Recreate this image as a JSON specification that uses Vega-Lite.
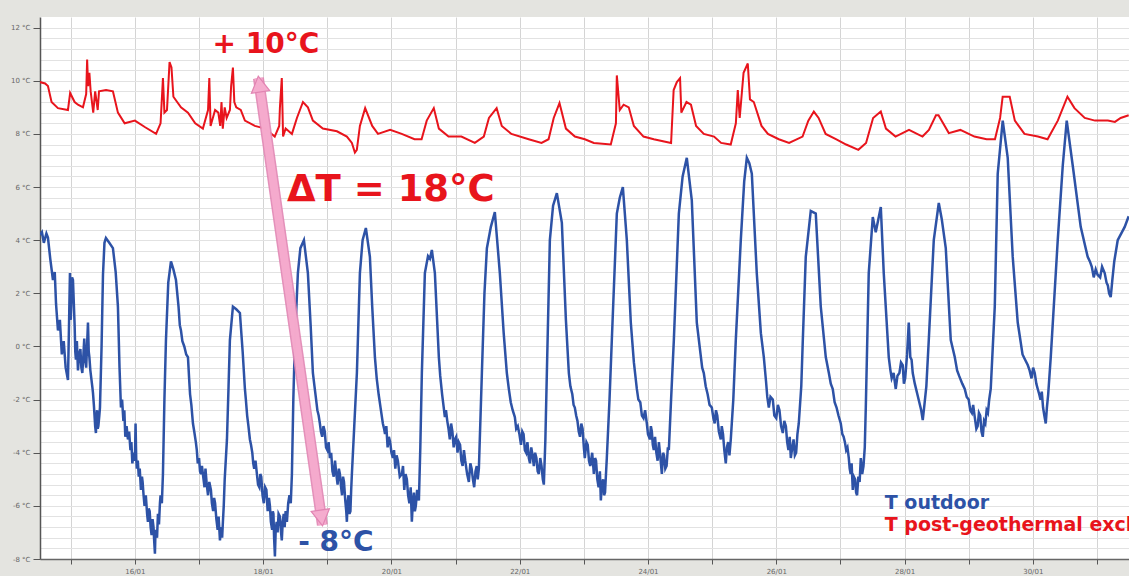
{
  "$schema": "https://vega.github.io/schema/vega-lite/v6.json",
  "width": 1089,
  "height": 542,
  "autosize": "none",
  "padding": {"left": 40, "top": 17, "right": 0, "bottom": 17},
  "background": "#e4e4e0",
  "config": {
    "view": {"fill": "white", "stroke": null},
    "font": "DejaVu Sans"
  },
  "datasets": {
    "outdoor": [
      [14.52,4.2],[14.55,4.3],[14.58,3.9],[14.62,4.25],[14.644,4.1],[14.68,3.3],[14.722,2.5],[14.75,2.8],[14.77,1.6],[14.8,0.6],[14.83,1.0],[14.86,-0.3],[14.89,0.2],[14.92,-0.8],[14.956,-1.26],[14.97,0.5],[14.987,2.76],[15.0,1.0],[15.02,2.6],[15.034,2.5],
      [15.06,0.8],[15.07,-0.2],[15.08,-0.5],[15.095,0.2],[15.112,-0.9],[15.13,-0.3],[15.15,-0.1],[15.165,-0.8],[15.18,-1.0],[15.195,-0.4],[15.21,0.3],[15.225,-0.5],[15.24,-0.8],[15.255,0.1],[15.268,0.9],[15.28,-0.2],[15.29,-0.4],[15.305,-0.9],[15.32,-1.2],[15.335,-1.5],[15.346,-1.75],[15.36,-2.2],[15.37,-2.6],[15.38,-3.0],[15.392,-3.26],[15.4,-2.7],[15.41,-2.4],[15.42,-3.1],[15.43,-3.0],[15.445,-2.6],[15.455,-2.3],
      [15.48,0.0],[15.502,2.7],[15.525,3.9],[15.548,4.08],[15.6,3.9],[15.657,3.7],[15.7,2.8],[15.735,1.5],
      [15.76,-0.8],[15.782,-2.3],[15.8,-2.0],[15.82,-2.8],[15.835,-2.4],[15.85,-3.4],[15.87,-3.0],[15.891,-3.5],[15.91,-3.2],[15.93,-3.9],[15.945,-3.6],[15.96,-4.4],[15.98,-4.0],[16.0,-4.3],[16.01,-2.9],[16.02,-4.2],[16.03,-4.6],[16.045,-4.3],[16.06,-4.9],[16.075,-4.6],[16.094,-5.4],[16.11,-4.9],[16.12,-5.1],[16.135,-5.6],[16.15,-6.0],[16.17,-5.6],[16.19,-6.3],[16.203,-6.6],[16.215,-6.1],[16.23,-6.2],[16.245,-6.8],[16.26,-7.1],[16.275,-6.5],[16.29,-6.8],[16.3,-7.3],[16.312,-7.8],[16.32,-7.0],[16.33,-6.9],[16.345,-7.2],[16.359,-6.3],[16.375,-6.7],[16.39,-5.9],[16.4,-5.6],[16.42,-5.9],[16.437,-4.8],
      [16.46,-2.0],[16.484,0.24],[16.52,2.4],[16.562,3.2],[16.6,2.9],[16.64,2.5],
      [16.68,1.5],[16.7,0.8],[16.718,0.6],[16.74,0.2],[16.77,0.0],[16.8,-0.3],[16.827,-0.4],[16.845,-1.2],[16.86,-1.8],[16.88,-2.2],[16.905,-2.9],[16.925,-3.2],[16.95,-3.6],[16.965,-3.9],[16.98,-4.4],[17.0,-4.2],[17.015,-4.7],[17.029,-4.8],[17.045,-4.5],[17.07,-5.0],[17.085,-5.3],[17.1,-4.6],[17.12,-5.2],[17.14,-5.6],[17.16,-5.1],[17.185,-5.4],[17.2,-5.9],[17.22,-6.2],[17.235,-5.7],[17.25,-5.9],[17.27,-6.5],[17.29,-6.9],[17.305,-6.4],[17.326,-7.3],[17.34,-6.9],[17.35,-6.8],[17.36,-7.2],[17.372,-6.6],[17.385,-6.0],[17.4,-5.0],
      [17.435,-3.5],[17.46,-1.5],[17.481,0.24],[17.528,1.5],[17.58,1.4],[17.637,1.26],
      [17.68,-0.2],[17.715,-1.6],[17.73,-2.0],[17.75,-2.6],[17.77,-3.0],[17.793,-3.5],[17.81,-3.7],[17.83,-4.0],[17.845,-4.4],[17.86,-4.6],[17.88,-4.3],[17.902,-4.8],[17.92,-5.2],[17.94,-5.3],[17.955,-4.8],[17.97,-4.9],[17.99,-5.6],[18.01,-5.9],[18.03,-5.3],[18.05,-5.4],[18.07,-6.2],[18.09,-5.7],[18.105,-6.0],[18.12,-6.6],[18.14,-6.9],[18.15,-6.2],[18.16,-6.3],[18.17,-7.2],[18.183,-7.9],[18.195,-6.9],[18.21,-6.6],[18.225,-7.0],[18.24,-6.3],[18.261,-6.4],[18.275,-6.9],[18.29,-7.3],[18.305,-6.6],[18.32,-6.3],[18.335,-6.8],[18.35,-6.2],[18.37,-6.6],[18.39,-5.9],[18.41,-5.6],[18.43,-5.9],[18.448,-4.8],
      [18.47,-2.0],[18.495,0.24],[18.541,2.76],[18.58,3.7],[18.635,4.0],[18.697,2.76],
      [18.74,0.8],[18.775,-1.0],[18.8,-1.5],[18.82,-1.9],[18.845,-2.4],[18.865,-2.6],[18.884,-2.9],[18.9,-3.2],[18.92,-3.4],[18.94,-3.0],[18.96,-3.2],[18.98,-3.8],[19.0,-3.9],[19.02,-3.6],[19.04,-4.2],[19.06,-4.0],[19.08,-4.7],[19.1,-4.9],[19.12,-4.3],[19.14,-4.8],[19.16,-5.2],[19.18,-4.6],[19.196,-4.8],[19.215,-5.3],[19.23,-5.6],[19.245,-4.9],[19.26,-5.1],[19.28,-5.8],[19.295,-6.2],[19.305,-6.6],[19.315,-5.9],[19.33,-5.6],[19.345,-6.3],[19.36,-6.2],[19.372,-5.4],[19.383,-4.8],
      [19.42,-3.0],[19.461,-1.0],[19.508,2.76],[19.55,4.0],[19.601,4.46],[19.664,3.37],[19.7,1.5],
      [19.742,-0.4],[19.77,-1.2],[19.8,-1.8],[19.83,-2.3],[19.866,-2.9],[19.885,-3.1],[19.9,-3.3],[19.92,-3.0],[19.94,-3.8],[19.96,-3.4],[19.98,-3.6],[20.0,-4.0],[20.022,-4.2],[20.04,-3.9],[20.06,-4.6],[20.08,-4.1],[20.1,-4.3],[20.13,-4.9],[20.163,-4.8],[20.18,-4.5],[20.2,-5.4],[20.22,-4.8],[20.24,-5.0],[20.26,-5.6],[20.28,-5.9],[20.3,-5.3],[20.318,-6.6],[20.335,-5.8],[20.35,-5.5],[20.365,-6.2],[20.38,-6.0],[20.4,-5.4],[20.428,-5.8],
      [20.45,-3.8],[20.474,-1.0],[20.521,2.76],[20.57,3.4],[20.6,3.3],[20.63,3.63],[20.677,2.76],
      [20.739,-0.4],[20.76,-1.1],[20.79,-1.8],[20.81,-2.2],[20.833,-2.66],[20.85,-2.4],[20.87,-2.8],[20.89,-3.1],[20.91,-3.5],[20.93,-2.9],[20.95,-3.2],[20.97,-3.8],[20.989,-3.5],[21.01,-3.4],[21.03,-4.0],[21.05,-3.6],[21.07,-3.7],[21.09,-4.3],[21.11,-4.5],[21.13,-3.9],[21.15,-4.3],[21.18,-4.8],[21.207,-5.1],[21.23,-4.4],[21.25,-4.6],[21.27,-5.0],[21.29,-5.3],[21.31,-4.7],[21.33,-4.5],[21.345,-5.0],[21.363,-4.6],
      [21.41,-1.0],[21.45,2.0],[21.488,3.7],[21.55,4.5],[21.612,5.06],[21.69,2.76],[21.75,0.5],
      [21.799,-1.0],[21.83,-1.6],[21.86,-2.1],[21.89,-2.4],[21.924,-2.66],[21.945,-3.1],[21.97,-3.0],[21.995,-3.3],[22.02,-3.7],[22.04,-3.2],[22.06,-3.3],[22.08,-3.9],[22.1,-4.0],[22.12,-3.6],[22.142,-4.2],[22.16,-4.4],[22.18,-3.8],[22.2,-4.1],[22.22,-4.5],[22.24,-4.0],[22.26,-4.2],[22.28,-4.7],[22.298,-4.8],[22.32,-4.2],[22.34,-4.5],[22.36,-5.0],[22.376,-5.2],
      [22.4,-3.5],[22.423,-1.0],[22.47,4.0],[22.52,5.3],[22.579,5.77],[22.657,4.65],[22.72,1.0],
      [22.766,-1.0],[22.79,-1.5],[22.82,-1.8],[22.84,-2.2],[22.859,-2.3],[22.88,-2.6],[22.9,-2.8],[22.92,-3.2],[22.94,-3.4],[22.96,-2.9],[22.98,-3.1],[23.0,-3.8],[23.015,-4.2],[23.04,-3.6],[23.06,-3.7],[23.08,-4.3],[23.1,-4.5],[23.13,-4.0],[23.156,-4.8],[23.175,-4.2],[23.19,-4.3],[23.21,-5.0],[23.23,-5.3],[23.25,-4.7],[23.265,-5.8],[23.28,-5.2],[23.3,-5.0],[23.315,-5.6],[23.33,-5.5],[23.345,-4.8],[23.358,-4.2],
      [23.4,-2.0],[23.436,0.24],[23.514,5.0],[23.56,5.6],[23.608,6.0],[23.67,4.0],[23.732,0.9],[23.78,-0.6],
      [23.826,-1.6],[23.85,-2.0],[23.88,-2.1],[23.905,-2.6],[23.93,-2.7],[23.955,-2.4],[23.982,-2.9],[24.0,-3.3],[24.03,-3.5],[24.045,-3.0],[24.06,-3.2],[24.075,-3.7],[24.091,-3.9],[24.11,-3.4],[24.13,-4.0],[24.15,-4.3],[24.17,-3.6],[24.19,-4.1],[24.216,-4.8],[24.235,-4.0],[24.25,-4.1],[24.27,-4.6],[24.29,-4.5],[24.31,-3.8],[24.325,-3.9],
      [24.36,-2.0],[24.403,0.24],[24.481,5.0],[24.54,6.4],[24.605,7.1],[24.683,5.5],[24.761,0.9],
      [24.82,-0.3],[24.845,-0.8],[24.87,-1.0],[24.9,-1.5],[24.93,-1.8],[24.96,-2.2],[24.995,-2.3],[25.02,-2.7],[25.04,-2.9],[25.06,-2.4],[25.08,-2.6],[25.105,-3.2],[25.135,-3.5],[25.15,-3.0],[25.17,-3.3],[25.19,-3.9],[25.213,-4.4],[25.23,-3.8],[25.25,-3.6],[25.27,-4.1],[25.291,-3.5],
      [25.33,-2.0],[25.369,0.24],[25.447,4.0],[25.5,6.2],[25.541,7.1],[25.58,6.9],[25.619,6.5],[25.696,2.76],[25.76,0.5],
      [25.806,-0.4],[25.84,-1.3],[25.86,-1.9],[25.884,-2.3],[25.91,-1.9],[25.946,-2.0],[25.97,-2.6],[26.0,-2.7],[26.025,-2.2],[26.05,-2.4],[26.075,-3.0],[26.102,-3.26],[26.125,-2.8],[26.15,-3.0],[26.17,-3.6],[26.19,-3.9],[26.21,-3.4],[26.227,-4.2],[26.25,-3.8],[26.27,-3.5],[26.29,-4.1],[26.31,-4.0],[26.33,-3.3],[26.351,-2.9],
      [26.39,-1.5],[26.414,0.24],[26.46,3.37],[26.538,5.1],[26.616,5.0],[26.694,1.5],
      [26.772,-0.4],[26.82,-1.0],[26.85,-1.4],[26.881,-1.6],[26.91,-2.1],[26.94,-2.3],[26.97,-2.6],[27.006,-2.9],[27.03,-3.3],[27.05,-3.4],[27.07,-3.6],[27.09,-3.9],[27.11,-3.8],[27.131,-4.2],[27.145,-4.6],[27.16,-4.8],[27.175,-4.4],[27.193,-5.4],[27.21,-4.9],[27.23,-5.0],[27.245,-5.5],[27.26,-5.6],[27.28,-4.9],[27.3,-5.1],[27.318,-4.2],[27.34,-4.8],[27.36,-4.5],[27.38,-3.8],[27.396,-2.3],
      [27.442,2.76],[27.505,4.87],[27.551,4.3],[27.63,5.25],[27.676,2.76],
      [27.754,-0.4],[27.78,-0.9],[27.8,-1.2],[27.83,-1.0],[27.863,-1.6],[27.89,-1.1],[27.92,-1.0],[27.945,-0.6],[27.972,-0.7],[27.99,-1.4],[28.01,-1.2],[28.04,-0.3],[28.066,0.9],[28.09,-0.4],[28.11,-0.5],[28.128,-1.0],[28.16,-1.4],[28.2,-1.8],[28.23,-2.1],[28.26,-2.4],[28.284,-2.77],[28.31,-2.2],[28.34,-1.5],
      [28.378,0.24],[28.456,4.0],[28.534,5.4],[28.58,4.8],[28.643,3.7],[28.721,0.24],
      [28.783,-0.4],[28.82,-0.9],[28.85,-1.1],[28.9,-1.4],[28.939,-1.6],[28.97,-1.9],[29.0,-2.0],[29.025,-2.4],[29.05,-2.5],[29.07,-2.2],[29.095,-2.66],[29.12,-3.1],[29.14,-3.0],[29.16,-2.5],[29.18,-2.6],[29.2,-3.2],[29.22,-3.4],[29.24,-2.8],[29.26,-2.9],[29.28,-2.4],[29.3,-2.5],[29.32,-2.0],[29.344,-1.6],
      [29.407,1.5],[29.453,6.5],[29.531,8.5],[29.609,7.1],[29.687,3.37],[29.765,0.9],
      [29.84,-0.3],[29.88,-0.5],[29.921,-0.7],[29.95,-0.9],[29.98,-1.2],[30.005,-0.8],[30.03,-1.0],[30.055,-1.4],[30.077,-1.6],[30.1,-1.8],[30.12,-2.0],[30.14,-1.7],[30.16,-2.3],[30.18,-2.6],[30.202,-2.9],[30.22,-2.3],[30.24,-1.8],
      [30.28,-0.4],[30.389,4.0],[30.467,6.8],[30.529,8.5],[30.623,6.8],[30.747,4.5],
      [30.856,3.37],[30.89,3.2],[30.92,3.0],[30.95,2.6],[30.981,2.9],[31.01,2.7],[31.05,2.6],[31.08,3.0],[31.121,2.76],[31.15,2.4],[31.17,2.3],[31.19,2.0],[31.215,1.86],[31.24,2.5],[31.27,3.2],
      [31.324,4.0],[31.433,4.5],[31.495,4.9]
    ],
    "post": [
      [14.52,9.95],[14.6,9.9],[14.644,9.8],[14.7,9.2],[14.8,8.97],[14.956,8.9],[14.99,9.54],[15.06,9.2],[15.112,9.1],[15.19,9.0],[15.24,9.5],[15.255,10.8],[15.27,9.8],[15.29,10.3],[15.31,9.6],[15.35,8.8],[15.38,9.6],[15.42,8.9],[15.44,9.6],[15.55,9.65],[15.657,9.6],[15.735,8.8],[15.84,8.4],[16.0,8.5],[16.16,8.25],[16.33,8.0],[16.4,8.4],[16.437,10.1],[16.46,8.8],[16.5,8.9],[16.54,10.7],[16.57,10.5],[16.6,9.4],[16.718,9.0],[16.827,8.8],[16.94,8.4],[17.06,8.2],[17.14,8.9],[17.16,10.1],[17.18,8.3],[17.25,8.9],[17.3,8.8],[17.33,8.3],[17.35,9.2],[17.37,8.2],[17.4,9.0],[17.43,8.6],[17.481,8.9],[17.5,9.8],[17.528,10.5],[17.55,9.2],[17.58,9.0],[17.65,8.9],[17.715,8.5],[17.87,8.3],[18.03,8.2],[18.18,7.9],[18.25,8.3],[18.261,9.0],[18.29,10.1],[18.31,7.9],[18.35,8.2],[18.448,8.0],[18.526,8.6],[18.62,9.2],[18.697,9.0],[18.775,8.5],[18.93,8.2],[19.15,8.1],[19.305,7.9],[19.383,7.66],[19.43,7.3],[19.46,7.4],[19.508,8.3],[19.59,8.97],[19.7,8.3],[19.79,8.0],[19.98,8.15],[20.16,8.0],[20.36,7.8],[20.47,7.8],[20.55,8.5],[20.66,8.97],[20.739,8.2],[20.89,7.9],[21.09,7.9],[21.3,7.66],[21.44,7.9],[21.52,8.6],[21.64,8.97],[21.72,8.3],[21.87,8.0],[22.14,7.8],[22.34,7.66],[22.45,7.8],[22.53,8.6],[22.62,9.16],[22.72,8.2],[22.86,7.9],[23.015,7.8],[23.156,7.66],[23.42,7.6],[23.5,8.4],[23.514,10.2],[23.56,8.9],[23.62,9.1],[23.7,9.0],[23.78,8.3],[23.93,7.9],[24.09,7.8],[24.36,7.66],[24.4,9.65],[24.45,9.95],[24.5,10.1],[24.52,8.8],[24.6,9.2],[24.67,9.1],[24.75,8.3],[24.87,8.0],[25.03,7.9],[25.14,7.66],[25.29,7.6],[25.37,8.4],[25.4,9.65],[25.43,8.6],[25.49,10.3],[25.556,10.65],[25.59,9.3],[25.65,9.2],[25.77,8.3],[25.87,8.0],[26.04,7.8],[26.2,7.66],[26.41,7.9],[26.5,8.5],[26.586,8.84],[26.66,8.6],[26.77,8.0],[26.93,7.8],[27.09,7.6],[27.28,7.4],[27.4,7.66],[27.51,8.6],[27.63,8.84],[27.71,8.2],[27.86,7.9],[28.07,8.15],[28.28,7.9],[28.38,8.15],[28.49,8.7],[28.53,8.7],[28.69,8.03],[28.87,8.15],[29.09,7.9],[29.28,7.8],[29.41,7.8],[29.49,8.6],[29.53,9.4],[29.64,9.4],[29.72,8.5],[29.87,8.0],[30.08,7.9],[30.23,7.8],[30.39,8.5],[30.54,9.4],[30.65,8.97],[30.81,8.6],[30.97,8.5],[31.17,8.5],[31.28,8.45],[31.37,8.6],[31.495,8.7]
    ]
  },
  "encoding": {
    "x": {
      "field": "day", "type": "quantitative",
      "scale": {"domain": [14.52, 31.5], "nice": false, "zero": false},
      "axis": {
        "title": null,
        "values": [15,16,17,18,19,20,21,22,23,24,25,26,27,28,29,30,31],
        "labelExpr": "datum.value % 2 == 0 ? datum.value + '/01' : ''",
        "grid": true, "gridColor": "#d4d4d4", "gridWidth": 1,
        "domainColor": "#666666", "domainWidth": 1.5,
        "tickColor": "#555555", "tickSize": 5,
        "labelFontSize": 7, "labelColor": "#666666", "labelPadding": 3,
        "labelFlush": false
      }
    },
    "y": {
      "field": "temp", "type": "quantitative",
      "scale": {"domain": [-8, 12.4], "nice": false, "zero": false},
      "axis": {
        "title": null,
        "values": [-8,-7.6,-7.2,-6.8,-6.4,-6,-5.6,-5.2,-4.8,-4.4,-4,-3.6,-3.2,-2.8,-2.4,-2,-1.6,-1.2,-0.8,-0.4,0,0.4,0.8,1.2,1.6,2,2.4,2.8,3.2,3.6,4,4.4,4.8,5.2,5.6,6,6.4,6.8,7.2,7.6,8,8.4,8.8,9.2,9.6,10,10.4,10.8,11.2,11.6,12],
        "labelExpr": "datum.value % 2 == 0 ? datum.value + ' °C' : ''",
        "grid": true, "gridColor": "#e2e2e2", "gridWidth": 1,
        "domainColor": "#555555", "domainWidth": 1.5,
        "tickColor": "#555555", "tickSize": 7,
        "tickOpacity": {"condition": {"test": "datum.value % 2 == 0", "value": 1}, "value": 0},
        "labelFontSize": 7, "labelColor": "#666666", "labelPadding": 3,
        "labelFlush": false
      }
    },
    "color": {
      "field": "series", "type": "nominal",
      "scale": {"domain": ["T outdoor", "T post-geothermal"], "range": ["#2d52a6", "#e8141c"]},
      "legend": null
    }
  },
  "layer": [
    {
      "data": {"name": "outdoor"},
      "transform": [
        {"calculate": "datum[0]", "as": "day"},
        {"calculate": "datum[1]", "as": "temp"},
        {"calculate": "'T outdoor'", "as": "series"}
      ],
      "mark": {"type": "line", "strokeWidth": 2.5, "clip": true}
    },
    {
      "data": {"name": "post"},
      "transform": [
        {"calculate": "datum[0]", "as": "day"},
        {"calculate": "datum[1]", "as": "temp"},
        {"calculate": "'T post-geothermal'", "as": "series"}
      ],
      "mark": {"type": "line", "strokeWidth": 2, "clip": true}
    },
    {
      "data": {"values": [{"day": 17.926, "temp": 10.1, "day2": 18.923, "temp2": -6.72}]},
      "mark": {"type": "rule", "strokeWidth": 11, "opacity": 0.9},
      "encoding": {"x2": {"field": "day2"}, "y2": {"field": "temp2"}, "color": {"value": "#e184b2"}}
    },
    {
      "data": {"values": [{"day": 17.926, "temp": 10.1, "day2": 18.923, "temp2": -6.72}]},
      "mark": {"type": "rule", "strokeWidth": 8, "opacity": 0.95},
      "encoding": {"x2": {"field": "day2"}, "y2": {"field": "temp2"}, "color": {"value": "#f5acce"}}
    },
    {
      "data": {"values": [{"day": 17.941, "temp": 9.877, "end": "top"}, {"day": 18.908, "temp": -6.457, "end": "bottom"}]},
      "mark": {"type": "point", "filled": true, "size": 340, "angle": 351.8, "stroke": "#e184b2", "strokeWidth": 1.2, "opacity": 1},
      "encoding": {
        "shape": {"field": "end", "type": "nominal", "scale": {"domain": ["top", "bottom"], "range": ["triangle-up", "triangle-down"]}, "legend": null},
        "color": {"value": "#f5acce"}
      }
    },
    {
      "data": {"values": [
        {"day": 19.991, "temp": 5.89, "label": "ΔT = 18°C", "series": "T post-geothermal"}
      ]},
      "mark": {"type": "text", "fontSize": 37, "fontWeight": "bold", "align": "center", "baseline": "middle"},
      "encoding": {"text": {"field": "label"}}
    },
    {
      "data": {"values": [
        {"day": 18.042, "temp": 11.34, "label": "+ 10°C", "series": "T post-geothermal"},
        {"day": 19.134, "temp": -7.4, "label": "- 8°C", "series": "T outdoor"}
      ]},
      "mark": {"type": "text", "fontSize": 28, "fontWeight": "bold", "align": "center", "baseline": "middle"},
      "encoding": {"text": {"field": "label"}}
    },
    {
      "data": {"values": [
        {"day": 27.692, "temp": -5.89, "label": "T outdoor", "series": "T outdoor"},
        {"day": 27.692, "temp": -6.72, "label": "T post-geothermal exchanger", "series": "T post-geothermal"}
      ]},
      "mark": {"type": "text", "fontSize": 19, "fontWeight": "bold", "align": "left", "baseline": "middle"},
      "encoding": {"text": {"field": "label"}}
    }
  ]
}
